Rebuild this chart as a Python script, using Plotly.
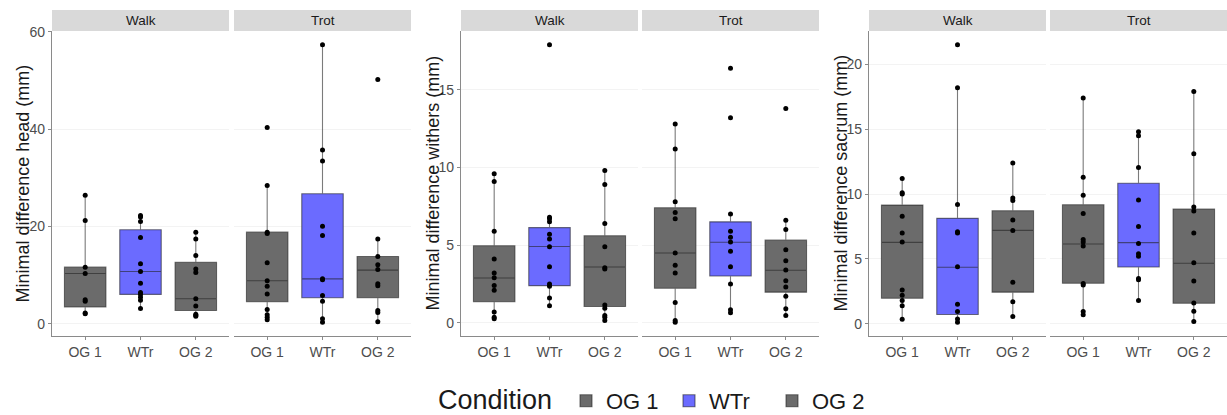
import plotly.graph_objects as go

W, H = 1227, 415
CONDITIONS = ["OG 1", "WTr", "OG 2"]
GAITS = ["Walk", "Trot"]
FILLS = {"OG 1": "#6b6b6b", "WTr": "#6b6bff", "OG 2": "#6b6b6b"}
LEGEND_TITLE = "Condition"

# ---------------- Head ----------------
HEAD_WALK_POINTS = {
    "OG 1": [26.4, 21.2, 11.6, 10.3, 4.9, 4.6, 2.2, 2.0],
    "WTr": [22.2, 21.9, 21.0, 17.7, 12.3, 10.7, 8.3, 6.4, 6.0, 5.4, 4.8, 3.1],
    "OG 2": [18.8, 17.4, 14.0, 11.2, 10.5, 5.1, 3.6, 1.9, 1.7, 1.5],
}
HEAD_WALK_BOX = {"q1": [3.4, 6.0, 2.7], "median": [10.3, 10.7, 5.1], "q3": [11.6, 19.3, 12.6],
                 "lo": [2.0, 3.1, 1.5], "hi": [26.4, 22.2, 18.8]}
HEAD_TROT_POINTS = {
    "OG 1": [40.3, 28.4, 18.8, 18.5, 12.5, 8.8, 7.7, 6.1, 2.9, 1.8, 1.3, 0.8],
    "WTr": [57.3, 35.7, 33.4, 20.0, 18.1, 9.2, 9.0, 5.8, 4.6, 1.0, 0.3],
    "OG 2": [50.2, 17.4, 13.8, 12.1, 11.1, 8.2, 7.8, 2.7, 2.3, 0.4],
}
HEAD_TROT_BOX = {"q1": [4.5, 5.3, 5.3], "median": [8.8, 9.2, 11.0], "q3": [18.8, 26.7, 13.8],
                 "lo": [0.8, 0.3, 0.4], "hi": [28.4, 57.3, 17.4]}

# ---------------- Withers ----------------
WITHERS_WALK_POINTS = {
    "OG 1": [9.6, 9.1, 5.9, 4.1, 3.2, 2.9, 2.4, 2.1, 0.7, 0.35, 0.26],
    "WTr": [17.9, 6.8, 6.7, 6.5, 5.7, 5.4, 4.9, 3.6, 2.5, 2.35, 1.6, 1.1],
    "OG 2": [9.8, 8.9, 6.4, 4.9, 3.55, 3.46, 1.15, 0.94, 0.47, 0.36, 0.15],
}
WITHERS_WALK_BOX = {"q1": [1.35, 2.39, 1.05], "median": [2.88, 4.91, 3.59], "q3": [4.96, 6.13, 5.6],
                    "lo": [0.26, 1.09, 0.15], "hi": [9.6, 6.82, 9.79]}
WITHERS_TROT_POINTS = {
    "OG 1": [12.8, 11.2, 7.8, 7.1, 6.7, 4.5, 3.7, 3.2, 1.3, 0.15, 0.04],
    "WTr": [16.4, 13.2, 7.0, 5.9, 5.5, 5.2, 4.6, 3.6, 2.5, 0.83, 0.64],
    "OG 2": [13.8, 6.6, 6.0, 4.7, 4.0, 3.4, 2.7, 2.3, 1.7, 0.9, 0.47],
}
WITHERS_TROT_BOX = {"q1": [2.22, 3.01, 1.97], "median": [4.49, 5.19, 3.38], "q3": [7.41, 6.5, 5.32],
                    "lo": [0.04, 0.64, 0.47], "hi": [12.78, 7.03, 6.56]}

# ---------------- Sacrum ----------------
SACRUM_WALK_POINTS = {
    "OG 1": [11.2, 10.1, 10.0, 8.3, 7.0, 6.3, 2.6, 2.2, 1.8, 1.4, 0.36],
    "WTr": [21.5, 18.2, 9.2, 7.1, 7.0, 4.4, 1.5, 0.95, 0.38, 0.13],
    "OG 2": [12.4, 9.7, 9.5, 8.0, 7.2, 3.2, 1.7, 0.56],
}
SACRUM_WALK_BOX = {"q1": [1.97, 0.72, 2.44], "median": [6.28, 4.36, 7.2], "q3": [9.15, 8.13, 8.72],
                   "lo": [0.36, 0.13, 0.56], "hi": [11.2, 18.2, 12.4]}
SACRUM_TROT_POINTS = {
    "OG 1": [17.4, 11.3, 9.9, 8.5, 6.5, 6.3, 6.0, 3.1, 3.0, 0.95, 0.69],
    "WTr": [14.8, 14.5, 12.05, 9.55, 7.5, 6.2, 5.4, 5.2, 3.5, 3.4, 1.8],
    "OG 2": [17.9, 13.1, 9.0, 8.7, 7.0, 4.7, 3.3, 1.6, 0.97, 0.18],
}
SACRUM_TROT_BOX = {"q1": [3.13, 4.38, 1.59], "median": [6.15, 6.26, 4.67], "q3": [9.18, 10.83, 8.85],
                   "lo": [0.69, 1.79, 0.18], "hi": [17.36, 14.82, 17.9]}

Y_TITLES = ["Minimal difference head (mm)", "Minimal difference withers (mm)",
            "Minimal difference sacrum (mm)"]
Y_DTICKS = [20, 5, 5]

PANELS = [
    [(HEAD_WALK_POINTS, HEAD_WALK_BOX), (HEAD_TROT_POINTS, HEAD_TROT_BOX)],
    [(WITHERS_WALK_POINTS, WITHERS_WALK_BOX), (WITHERS_TROT_POINTS, WITHERS_TROT_BOX)],
    [(SACRUM_WALK_POINTS, SACRUM_WALK_BOX), (SACRUM_TROT_POINTS, SACRUM_TROT_BOX)],
]

# ---------------- layout geometry (pixels) ----------------
FACET_X = [[(52, 229), (234, 411)], [(461, 638), (642, 819)], [(869, 1046), (1050, 1227)]]
TITLE_X = [22, 432, 840]
PLOT_TOP, PLOT_BOTTOM, STRIP_TOP = 31, 336, 10
LEGEND_Y = 401

FONT = "Liberation Sans, Arial, sans-serif"
AXIS_COL = "#8a8a8a"
TICK_COL = "#4d4d4d"

def py(p):
    return (H - p) / H

fig = go.Figure()
layout = dict(
    width=W, height=H,
    margin=dict(l=0, r=0, t=0, b=0, autoexpand=False),
    paper_bgcolor="white", plot_bgcolor="white",
    boxmode="overlay",
    font=dict(family=FONT, color="#1a1a1a"),
    shapes=[], annotations=[],
)

for i, panel in enumerate(PANELS):
    yname = f"y{i+1}"
    allvals = [v for pts, _ in panel for c in CONDITIONS for v in pts[c]]
    lo, hi = min(allvals), max(allvals)
    span = hi - lo
    layout[f"yaxis{i+1}"] = dict(
        domain=[py(PLOT_BOTTOM), py(PLOT_TOP)], anchor=f"x{2*i+1}",
        range=[lo - 0.05 * span, hi + 0.05 * span], dtick=Y_DTICKS[i], tick0=0,
        showline=True, linecolor=AXIS_COL, linewidth=1.2,
        ticks="outside", ticklen=3, tickcolor=AXIS_COL,
        tickfont=dict(size=14, color=TICK_COL, family=FONT),
        showgrid=True, gridcolor="#f3f3f3", gridwidth=1, zeroline=False,
    )
    layout["annotations"].append(dict(
        text=Y_TITLES[i], textangle=-90, xref="paper", yref="paper",
        x=TITLE_X[i] / W, y=py((PLOT_TOP + PLOT_BOTTOM) / 2), showarrow=False,
        font=dict(size=18, color="#1a1a1a", family=FONT), xanchor="center", yanchor="middle",
    ))
    for j, (pts, box) in enumerate(panel):
        k = 2 * i + j + 1
        xname = f"x{k}"
        x0, x1 = FACET_X[i][j]
        layout[f"xaxis{k}"] = dict(
            domain=[x0 / W, x1 / W], anchor=yname, type="category",
            categoryorder="array", categoryarray=CONDITIONS, range=[-0.6, 2.6],
            showline=True, linecolor=AXIS_COL, linewidth=1.2,
            ticks="outside", ticklen=3, tickcolor=AXIS_COL,
            tickfont=dict(size=14, color=TICK_COL, family=FONT),
            showgrid=False, zeroline=False,
        )
        # strip
        layout["shapes"].append(dict(
            type="rect", xref="paper", yref="paper", x0=x0 / W, x1=x1 / W,
            y0=py(PLOT_TOP), y1=py(STRIP_TOP), fillcolor="#d9d9d9", line=dict(width=0), layer="below",
        ))
        layout["annotations"].append(dict(
            text=GAITS[j], xref="paper", yref="paper", x=(x0 + x1) / 2 / W,
            y=py((PLOT_TOP + STRIP_TOP) / 2), showarrow=False,
            font=dict(size=13.5, color="#1a1a1a", family=FONT), xanchor="center", yanchor="middle",
        ))
        for c_idx, cond in enumerate(CONDITIONS):
            fig.add_trace(go.Box(
                x=[cond], q1=[box["q1"][c_idx]], median=[box["median"][c_idx]],
                q3=[box["q3"][c_idx]], lowerfence=[box["lo"][c_idx]], upperfence=[box["hi"][c_idx]],
                width=0.75, whiskerwidth=0, boxpoints=False, fillcolor=FILLS[cond],
                line=dict(color="rgba(35,35,35,0.6)", width=1.1),
                name=cond, legendgroup=cond, showlegend=(i == 0 and j == 0),
                xaxis=xname, yaxis=yname, hoverinfo="skip",
            ))
            fig.add_trace(go.Scatter(
                x=[cond] * len(pts[cond]), y=pts[cond], mode="markers",
                marker=dict(color="black", size=5), showlegend=False,
                xaxis=xname, yaxis=yname, hoverinfo="skip",
            ))

# legend title as a text next to the legend
layout["annotations"].append(dict(
    text=LEGEND_TITLE, xref="paper", yref="paper", x=554 / W, y=py(LEGEND_Y - 1),
    xanchor="right", yanchor="middle", showarrow=False,
    font=dict(size=27, color="#1a1a1a", family=FONT),
))
layout["legend"] = dict(
    orientation="h", x=566 / W, xanchor="left", y=py(LEGEND_Y), yanchor="middle",
    font=dict(size=22, color="#1a1a1a", family=FONT), bgcolor="rgba(0,0,0,0)",
    entrywidth=58, entrywidthmode="pixels",
)
fig.update_layout(**layout)
fig.write_html("out.html")
